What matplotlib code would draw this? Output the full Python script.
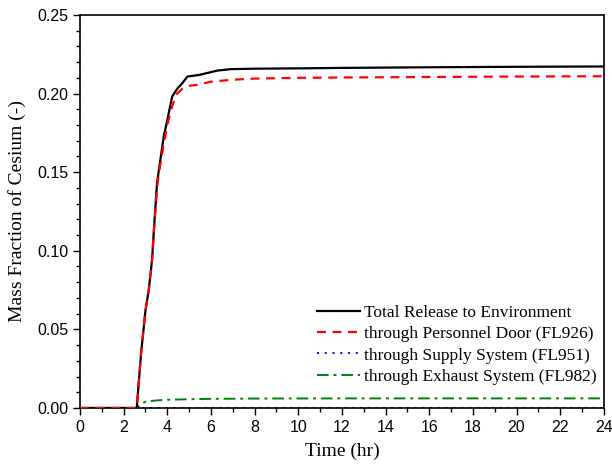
import matplotlib
matplotlib.use("Agg")
import matplotlib.pyplot as plt
from matplotlib.ticker import MultipleLocator

t_total = [0.0, 2.6, 2.8, 3.0, 3.15, 3.3, 3.38, 3.53, 3.61, 3.84, 4.0, 4.22, 4.45, 4.69, 4.92,
           5.45, 6.3, 6.9, 8.0, 10.0, 12.0, 16.0, 20.0, 24.0]
y_total = [0.0, 0.0, 0.035, 0.062, 0.075, 0.094, 0.112, 0.143, 0.151, 0.173, 0.183, 0.198, 0.203,
           0.2066, 0.2108, 0.2118, 0.2146, 0.2155, 0.2158, 0.2160, 0.2163, 0.2167, 0.2170, 0.2172]

t_door = [0.0, 2.6, 2.8, 3.0, 3.15, 3.3, 3.38, 3.53, 3.61, 3.84, 4.0, 4.22, 4.45, 4.69, 4.92,
          5.37, 6.0, 6.9, 8.0, 10.0, 12.0, 16.0, 20.0, 24.0]
y_door = [0.0, 0.0, 0.035, 0.062, 0.075, 0.094, 0.111, 0.140, 0.149, 0.168, 0.180, 0.192, 0.200,
          0.2030, 0.2048, 0.2055, 0.2075, 0.2087, 0.2095, 0.2100, 0.2102, 0.2105, 0.2108, 0.2110]

t_supply = [0.0, 24.0]
y_supply = [0.0, 0.0]

t_exhaust = [0.0, 2.6, 2.8, 3.0, 3.5, 4.0, 5.0, 6.0, 8.0, 12.0, 24.0]
y_exhaust = [0.0, 0.0, 0.0025, 0.0040, 0.0048, 0.0052, 0.0056, 0.0058, 0.0060, 0.0061, 0.0061]

serif = "Liberation Serif"
sans = "Liberation Sans"

fig = plt.figure(figsize=(6.12, 4.66), dpi=100)
ax = fig.add_axes([0.1307, 0.1245, 0.856, 0.8435])

ax.plot(t_total, y_total, color="black", lw=1.6, label="Total Release to Environment", zorder=3)
ax.plot(t_door, y_door, color="red", lw=1.6, ls=(0, (4, 3)), label="through Personnel Door (FL926)", zorder=4)
ax.plot(t_supply, y_supply, color="blue", lw=1.4, ls=(0, (1, 3)), label="through Supply System (FL951)", zorder=2)
ax.plot(t_exhaust, y_exhaust, color="green", lw=1.4, ls=(0, (6, 2.5, 1.5, 2.5)),
        label="through Exhaust System (FL982)", zorder=2)

ax.set_xlim(0, 24)
ax.set_ylim(0, 0.25)
ax.xaxis.set_major_locator(MultipleLocator(2))
ax.xaxis.set_minor_locator(MultipleLocator(1))
ax.yaxis.set_major_locator(MultipleLocator(0.05))
ax.yaxis.set_minor_locator(MultipleLocator(0.01))
ax.yaxis.set_major_formatter(plt.FormatStrFormatter("%.2f"))
ax.tick_params(which="major", direction="out", length=5, width=1, labelsize=11.5)
ax.tick_params(which="minor", direction="out", length=3, width=1)
for lab in ax.get_xticklabels() + ax.get_yticklabels():
    lab.set_family(sans)
for s in ax.spines.values():
    s.set_linewidth(1.2)

ax.set_xlabel("Time (hr)", family=serif, fontsize=14, labelpad=6)
ax.set_ylabel("Mass Fraction of Cesium (-)", family=serif, fontsize=14, labelpad=8)

ax.legend(loc="lower right", bbox_to_anchor=(1.0, 0.041), frameon=False,
          prop={"family": serif, "size": 12.5}, handlelength=2.45, handletextpad=0.25,
          labelspacing=0.3, borderaxespad=0.0)

fig.savefig("out.png", dpi=100)
